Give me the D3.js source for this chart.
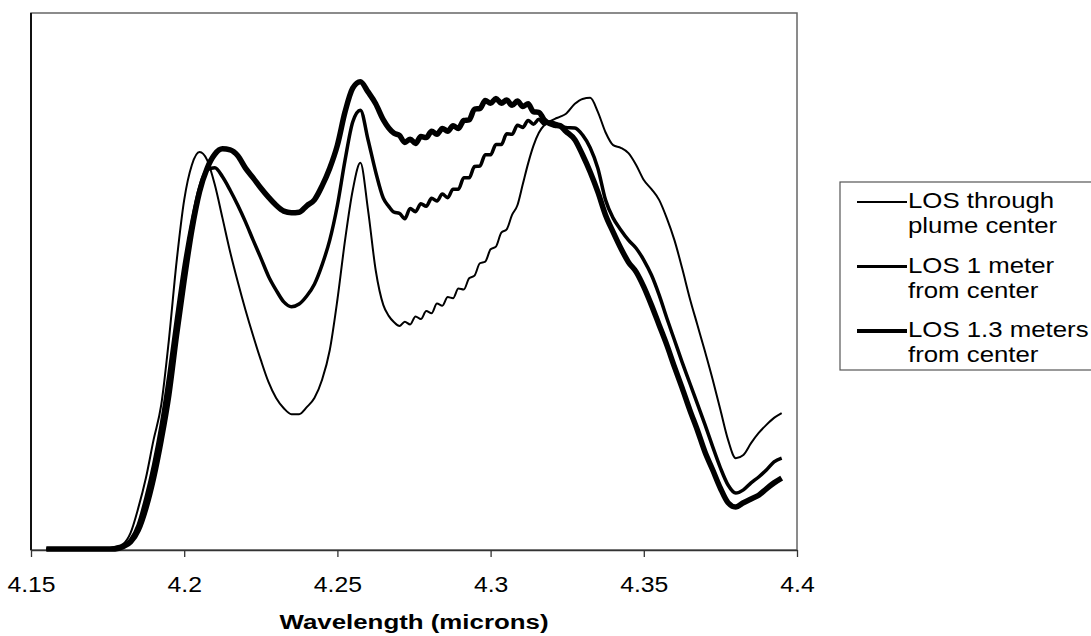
<!DOCTYPE html>
<html lang="en">
<head>
    <meta charset="utf-8">
    <title>LOS spectra through plume</title>
    <script src="https://cdn.jsdelivr.net/npm/d3@7"></script>
    <style type="text/css">
      body{
          margin: 0;
          background-color: #ffffff;
      }
      text{
          font-family: "Liberation Sans", Arial, sans-serif;
          fill: #000;
      }
    </style>
</head>
<body>
  <script type="text/javascript">
    // wavelength grid (microns), finer where the spectra ripple
    var wavelength = [4.155,4.1575,4.16,4.1625,4.165,4.1675,4.17,4.1725,4.175,4.1775,
                      4.18,4.1825,4.185,4.1875,4.19,4.1925,4.195,4.1975,4.2,4.2025,
                      4.205,4.2075,4.21,4.2125,4.215,4.2175,4.22,4.2225,4.225,4.2275,
                      4.23,4.2325,4.235,4.2375,4.24,4.2425,4.245,4.2475,4.25,4.2525,
                      4.255,4.2575,4.26,4.2625,
                      4.265,4.26675,4.2685,4.27025,4.272,4.27375,4.2755,4.27725,4.279,4.28075,
                      4.2825,4.28425,4.286,4.28775,4.2895,4.29125,4.293,4.29475,4.2965,4.29825,
                      4.3,4.30175,4.3035,4.30525,4.307,4.30875,4.3105,4.31225,4.314,4.31575,
                      4.3175,4.31925,4.321,4.32275,4.3245,
                      4.3275,4.33,4.3325,4.335,4.3375,4.34,4.3425,4.345,4.3475,4.35,4.3525,
                      4.355,4.3575,4.36,4.3625,4.365,4.3675,4.37,4.3725,4.375,4.3775,
                      4.38,4.3825,4.385,4.3875,4.39,4.3925,4.395];

    // relative radiance, arbitrary units
    var losCenter = [0.2,0.2,0.2,0.2,0.2,0.2,0.2,0.2,0.3,0.6,
                     1.1,3.2,7.8,13.4,20.5,27.0,39.1,53.6,65.2,71.7,
                     74.1,72.6,68.0,61.8,55.5,49.9,44.7,39.9,35.4,31.3,
                     28.3,26.4,25.3,25.3,26.6,28.3,31.7,37.2,46.6,57.7,
                     67.0,72.1,63.3,52.1,
                     45.6,43.6,42.4,41.7,42.5,42.0,43.5,43.0,44.5,44.1,
                     45.9,45.5,47.1,46.9,48.7,48.5,50.6,51.1,53.4,53.7,
                     56.0,56.5,59.1,59.7,62.4,64.2,68.1,72.0,75.3,77.7,
                     79.1,79.8,80.3,80.7,81.2,
                     83.1,84.0,84.2,81.6,77.8,75.4,74.9,73.9,71.7,68.9,67.2,
                     65.2,61.8,57.7,52.5,46.9,41.9,36.9,31.7,26.1,20.5,
                     17.1,17.7,19.9,21.8,23.3,24.6,25.5];

    var los1m = [0.2,0.2,0.2,0.2,0.2,0.2,0.2,0.2,0.2,0.4,
                 0.7,1.9,4.7,9.7,15.8,23.3,32.6,43.2,53.1,61.1,
                 67.4,70.8,71.2,69.5,67.0,64.2,61.1,57.7,54.4,51.0,
                 48.4,46.2,45.3,45.8,47.3,49.5,53.1,57.7,64.2,72.6,
                 79.7,81.9,76.4,70.4,
                 65.5,64.0,62.9,62.7,61.7,63.6,63.0,64.5,64.0,65.5,
                 65.0,66.3,65.6,67.2,67.2,69.3,69.3,71.4,71.5,73.6,
                 73.6,75.5,75.5,77.5,77.4,79.1,78.7,80.0,79.3,80.2,
                 79.3,79.7,79.5,79.2,78.7,
                 78.6,77.3,74.9,71.1,65.2,61.8,59.6,57.7,56.2,54.0,51.2,
                 47.5,43.2,39.1,35.0,31.1,27.2,23.3,19.2,15.3,12.1,
                 10.6,11.2,12.5,13.6,14.9,16.4,17.1];

    var los13m = [0.2,0.2,0.2,0.2,0.2,0.2,0.2,0.2,0.2,0.2,
                  0.6,1.5,3.7,7.8,13.4,20.5,28.9,40.0,50.3,59.6,
                  66.7,71.1,73.7,74.7,74.5,73.4,71.1,69.3,67.4,65.7,
                  64.2,63.1,62.8,62.9,64.1,65.2,67.8,71.1,75.4,81.6,
                  86.0,87.2,85.3,83.1,
                  80.1,78.6,77.6,77.2,75.9,76.5,75.7,77.0,76.8,78.0,
                  77.4,78.5,78.0,79.0,78.5,80.0,80.1,82.1,82.2,83.7,
                  83.2,84.1,83.2,83.8,82.8,83.6,82.6,83.1,81.6,81.5,
                  80.1,79.4,79.1,78.9,78.0,
                  76.4,73.6,70.4,66.7,62.4,59.2,56.2,53.6,51.8,49.0,45.6,
                  41.9,38.2,34.1,30.2,26.1,22.3,18.2,14.9,11.5,8.8,
                  8.0,8.8,9.5,10.2,11.4,12.5,13.4];

    var xTicks = [4.15,4.2,4.25,4.3,4.35,4.4];
    var seriesNames = [["LOS through","plume center"],["LOS 1 meter","from center"],["LOS 1.3 meters","from center"]];
    var seriesValues = [losCenter, los1m, los13m];
    var seriesWidths = [2, 3.5, 5.5];
    var legendWidths = [1.8, 3.2, 4.2];

    var width = 1091, height = 636;
    var plot = {left: 31, top: 13, right: 797, bottom: 550};

    var svg = d3.select("body").append("svg").attr("width", width).attr("height", height);

    var x = d3.scaleLinear().domain([4.15, 4.4]).range([plot.left, plot.right]);
    var y = d3.scaleLinear().domain([0, 100]).range([plot.bottom, plot.top]);

    // plot frame
    svg.append("rect")
        .attr("x", plot.left).attr("y", plot.top)
        .attr("width", plot.right - plot.left).attr("height", plot.bottom - plot.top)
        .attr("fill", "none").attr("stroke", "#666").attr("stroke-width", 1.5);
    svg.append("line")
        .attr("x1", plot.left).attr("x2", plot.left)
        .attr("y1", plot.top).attr("y2", plot.bottom)
        .attr("stroke", "#111").attr("stroke-width", 2);

    // x axis
    var xA = d3.axisBottom(x).tickValues(xTicks).tickSize(7).tickFormat(d3.format("")).tickSizeOuter(0);
    var gx = svg.append("g").attr("transform", "translate(0," + plot.bottom + ")").call(xA);
    gx.select(".domain").attr("stroke", "#333").attr("stroke-width", 1.5);
    gx.selectAll(".tick line").attr("stroke", "#333").attr("stroke-width", 1.3);
    gx.selectAll(".tick text")
        .attr("y", 0).attr("dy", 0)
        .attr("transform", "translate(0,42) scale(1.1,1)")
        .style("font-size", "22.5px")
        .style("font-family", "'Liberation Sans', Arial, sans-serif")
        .attr("fill", "#000");

    // axis title
    svg.append("text")
        .attr("x", (plot.left + plot.right) / 2)
        .attr("y", 629)
        .attr("text-anchor", "middle")
        .attr("textLength", 269)
        .attr("lengthAdjust", "spacingAndGlyphs")
        .style("font-size", "20px")
        .style("font-weight", "bold")
        .text("Wavelength (microns)");

    // series
    var line = d3.line()
        .x(function (d, i) { return x(wavelength[i]); })
        .y(function (d) { return y(d); })
        .curve(d3.curveMonotoneX);

    svg.selectAll("path.series")
        .data(seriesValues)
        .enter()
        .append("path")
        .attr("class", "series")
        .attr("d", line)
        .attr("fill", "none")
        .attr("stroke", "#000")
        .attr("stroke-linejoin", "round")
        .attr("stroke-width", function (d, i) { return seriesWidths[i]; });

    // legend
    var legend = svg.append("g");
    legend.append("rect")
        .attr("x", 840).attr("y", 182).attr("width", 270).attr("height", 188)
        .attr("fill", "#fff").attr("stroke", "#555").attr("stroke-width", 1.2);

    seriesNames.forEach(function (names, i) {
        var base = 208 + i * 64.5;
        legend.append("line")
            .attr("x1", 857).attr("x2", 907)
            .attr("y1", base - 6).attr("y2", base - 6)
            .attr("stroke", "#000").attr("stroke-width", legendWidths[i]);
        names.forEach(function (t, j) {
            legend.append("text")
                .attr("transform", "translate(908," + (base + j * 25) + ") scale(1.2,1)")
                .style("font-size", "21.5px")
                .text(t);
        });
    });
  </script>
</body>
</html>
